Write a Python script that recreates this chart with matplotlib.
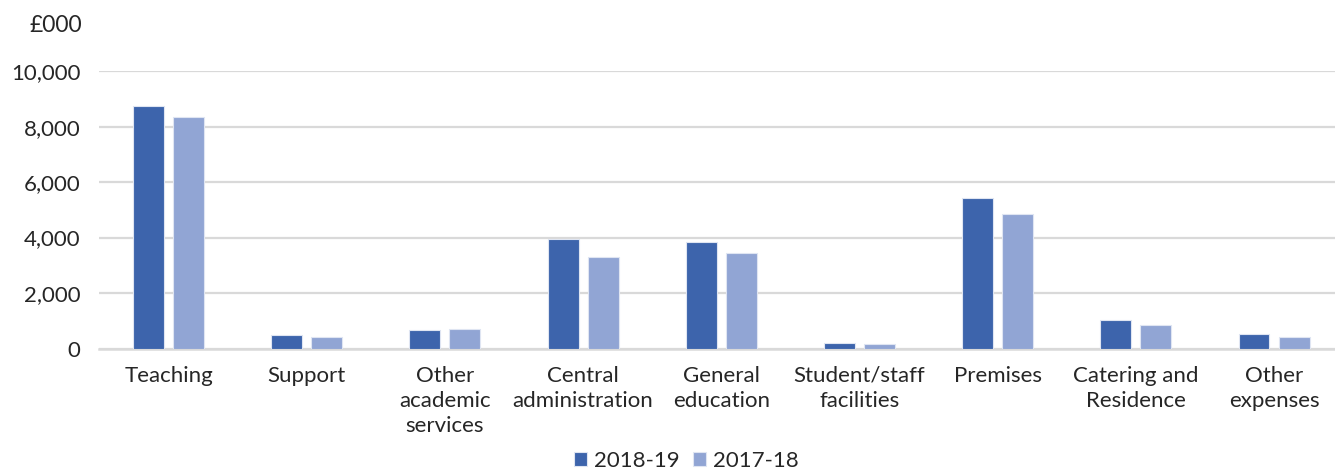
import matplotlib.pyplot as plt
import numpy as np

plt.rcParams['font.family'] = ['Lato', 'DejaVu Sans']

categories = ['Teaching', 'Support', 'Other\nacademic\nservices', 'Central\nadministration',
              'General\neducation', 'Student/staff\nfacilities', 'Premises',
              'Catering and\nResidence', 'Other\nexpenses']
values_1819 = [8740, 490, 655, 3955, 3825, 210, 5435, 1040, 525]
values_1718 = [8340, 415, 690, 3285, 3450, 175, 4845, 860, 415]
series_names = ['2018-19', '2017-18']
colors = ['#3D64AC', '#91A5D4']

fig = plt.figure(figsize=(13.35, 4.71), dpi=100)
ax = fig.add_axes([0.0745, 0.26, 0.9316, 0.589])

x = np.arange(len(categories))
w = 0.224
off = 0.145
ax.bar(x - off, values_1819, w, color=colors[0], edgecolor='#dfe5f2', linewidth=0.8,
       label=series_names[0], zorder=3)
ax.bar(x + off, values_1718, w, color=colors[1], edgecolor='#dfe5f2', linewidth=0.8,
       label=series_names[1], zorder=3)

ax.set_xlim(-0.5, len(categories) - 0.5)
ax.set_ylim(0, 10000)
ax.set_yticks(np.arange(0, 10001, 2000))
ax.set_yticklabels([f'{v:,}' for v in range(0, 10001, 2000)])
ax.set_xticks(x)
ax.set_xticklabels(categories, linespacing=1.3)
ax.tick_params(axis='both', length=0, labelsize=16, colors='#262626')
ax.tick_params(axis='y', pad=13.5)
ax.tick_params(axis='x', pad=12.5)
ax.grid(axis='y', color='#d9d9d9', linewidth=1.6, zorder=0)
for s in ['top', 'right', 'left']:
    ax.spines[s].set_visible(False)
ax.spines['bottom'].set_color('#d9d9d9')
ax.spines['bottom'].set_linewidth(1.8)

fig.text(0.0614, 0.946, '£000', ha='right', va='center', fontsize=16.5, color='#262626')

fig.legend(loc='center', bbox_to_anchor=(0.514, 0.021), ncol=2, frameon=False,
           fontsize=16, handlelength=0.6, handleheight=0.6, handletextpad=0.3,
           columnspacing=0.6, labelcolor='#262626')

fig.savefig('out.png', dpi=100)
